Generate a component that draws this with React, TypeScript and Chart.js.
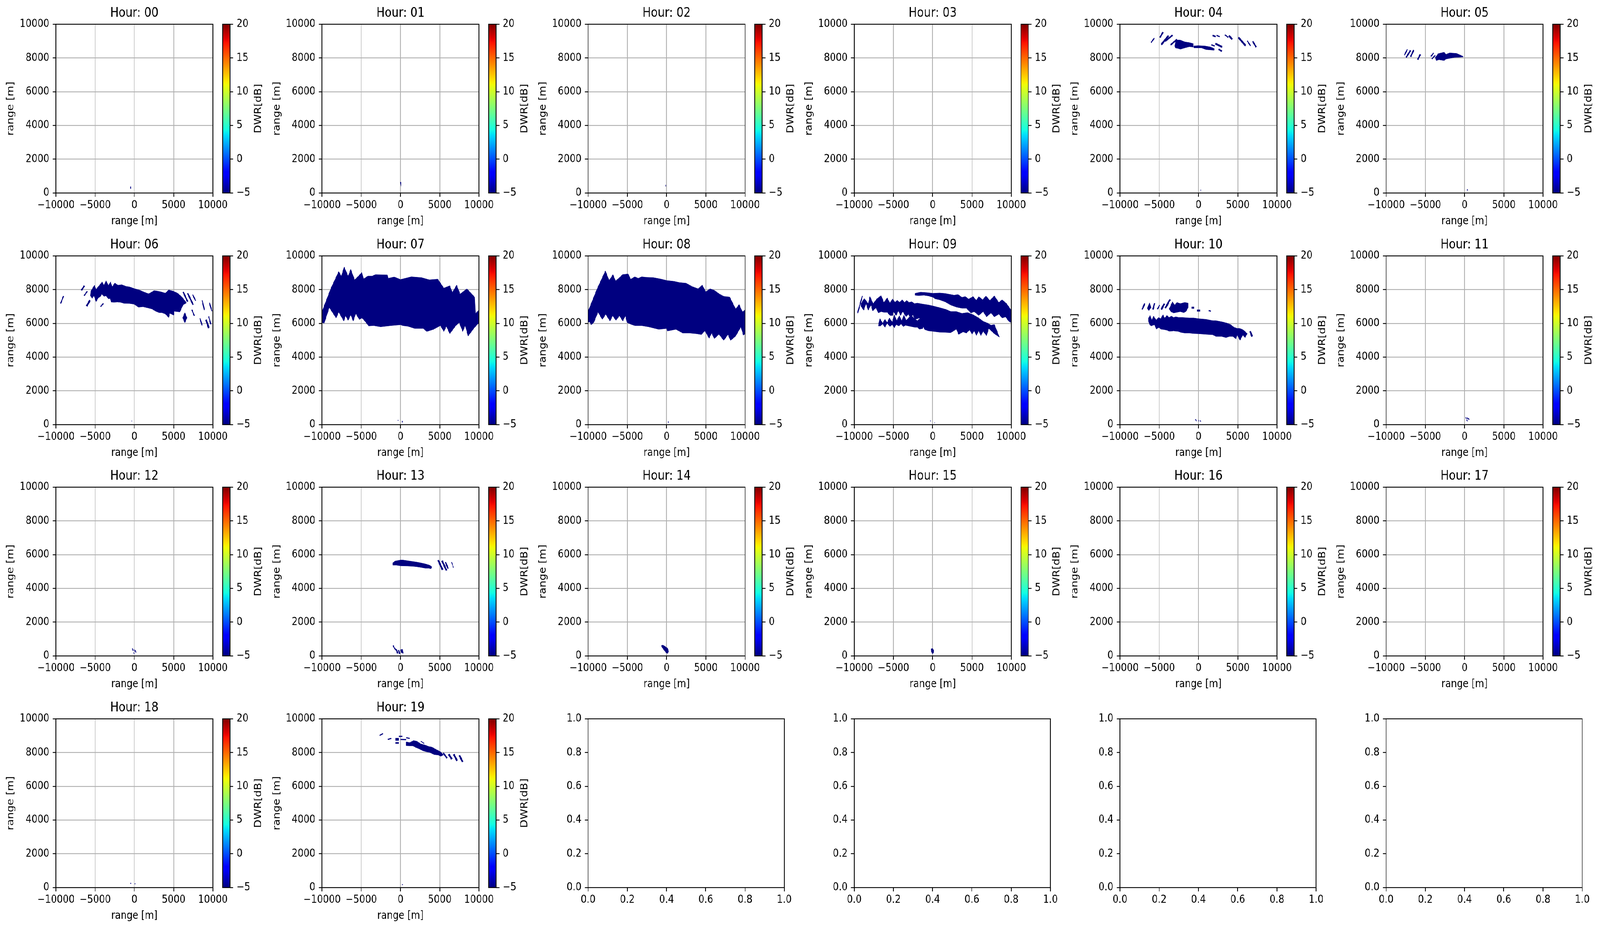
import React, { useEffect, useRef } from "react";
import { Chart, registerables } from "chart.js";

Chart.register(...registerables);

// ---------- style constants (matplotlib 200 dpi look) ----------
const PT = 200 / 72;
const LW = 0.8 * PT;
const TICK_LEN = 3.5 * PT;
const TICK_FS = 10 * PT;
const TITLE_FS = 12 * PT;
const FONT = "'DejaVu Sans', 'Liberation Sans', sans-serif";
const GRID = "#b0b0b0";
const FIG_W = 4780;
const FIG_H = 2378;

// ---------- axis / label data ----------
const HOUR_LABELS = ["00", "01", "02", "03", "04", "05", "06", "07", "08", "09", "10", "11", "12", "13", "14", "15", "16", "17", "18", "19"];
const EMPTY_SLOTS = [20, 21, 22, 23];
const RANGE_X_TICKS = [-10000, -5000, 0, 5000, 10000];
const RANGE_Y_TICKS = [0, 2000, 4000, 6000, 8000, 10000];
const DWR_TICKS = [-5, 0, 5, 10, 15, 20];
const UNIT_TICKS = [0, 0.2, 0.4, 0.6, 0.8, 1.0];
const DWR_MIN = -5;
const DWR_MAX = 20;
const SHAPE_DWR = -5; // every echo shown sits at the bottom of the colour scale
const AXIS_LABEL = "range [m]";
const CB_LABEL = "DWR[dB]";

// ---------- echo shapes per hour: polygons [x,y,x,y,...] in metres ----------
const h00Polys: number[][] = [];
const h00Streaks: number[][] = [[-480, 380, -470, 250, 2]];
const h01Polys: number[][] = [];
const h01Streaks: number[][] = [[-20, 650, 20, 560, 2]];
const h02Polys: number[][] = [];
const h02Streaks: number[][] = [[-130, 480, -110, 380, 2]];
const h03Polys: number[][] = [];
const h03Streaks: number[][] = [];

const h04Polys: number[][] = [
  [-3030, 8710, -2890, 9060, -2320, 9060, -1750, 8950, -1180, 8910, -680, 8850, -680, 8650, -1180, 8670, -1750, 8600, -2320, 8520, -2530, 8560, -2960, 8600],
  [-610, 8710, -40, 8730, 810, 8710, 1520, 8650, 1980, 8560, 1980, 8460, 1520, 8480, 950, 8500, 380, 8600, -610, 8600],
];
const h04Streaks: number[][] = [
  [-6040, 8910, -5620, 9180, 3], [-4910, 9210, -4520, 9530, 4], [-4740, 8790, -3810, 9320, 5],
  [-4240, 8990, -3310, 9350, 4], [-3560, 8770, -2740, 9100, 4], [1780, 9340, 2200, 9260, 4],
  [2300, 9340, 2690, 9260, 3], [1640, 8780, 2060, 8710, 3], [2160, 8850, 3010, 8650, 5],
  [2560, 8520, 2970, 8400, 4], [3370, 9370, 3800, 9220, 3], [3870, 9330, 4300, 9100, 5],
  [5080, 9220, 6000, 8730, 5], [6210, 9020, 6640, 8710, 3], [6900, 8990, 7350, 8640, 4],
  [270, 190, 280, 150, 2],
];

const h05Polys: number[][] = [
  [-3720, 8030, -3390, 8250, -2600, 8340, -2370, 8210, -1920, 8300, -1020, 8270, -230, 8100, -230, 8060, -1350, 8030, -2370, 7940, -2600, 7850, -3270, 7900, -3610, 7850],
];
const h05Streaks: number[][] = [
  [-7670, 8160, -7290, 8520, 3], [-7450, 8030, -6880, 8450, 4], [-6880, 8070, -6480, 8470, 4],
  [-5980, 7900, -5640, 8210, 4], [-4290, 8090, -3950, 8300, 3], [-4180, 7940, -3720, 8160, 3],
  [340, 220, 345, 140, 2],
];

const h06Polys: number[][] = [
  [-5520, 7940, -5090, 8260, -4880, 8020, -4100, 8460, -3880, 8230, -3600, 8540, -3310, 8230, -3030, 8460, -2820, 8170, -2490, 8390, -2100, 8260, -1610, 8290, -1040, 8190, -610, 8160, -10, 8060, 670, 7970, 1090, 7880, 1810, 7750, 2520, 7940, 2940, 7910, 3370, 7870, 3940, 7790, 4370, 7980, 4930, 7910, 5500, 7790, 6070, 7560, 6640, 7220, 6210, 7100, 5790, 6680, 5080, 6720, 5010, 6490, 4510, 6600, 4370, 6350, 3940, 6560, 3510, 6640, 3160, 6640, 2730, 6720, 2230, 6860, 1810, 6910, 1090, 6990, 530, 6960, -40, 7140, -610, 7180, -1320, 7190, -1750, 7250, -2180, 7270, -2600, 7250, -2960, 7270, -3100, 7480, -3310, 7450, -3600, 7640, -3880, 7600, -4170, 7750, -4310, 7600, -4590, 7520, -4880, 7290, -5160, 7640, -5380, 7480, -5590, 7640],
  [6140, 6330, 6430, 6630, 6710, 6330, 6430, 6040],
];
const h06Streaks: number[][] = [
  [-9400, 7180, -9030, 7620, 3], [-6750, 7960, -6370, 8230, 4], [-6410, 7640, -6010, 7900, 3],
  [-6090, 7020, -5660, 7370, 5], [-4310, 6990, -3950, 7180, 3], [6210, 7870, 6780, 7290, 4],
  [6780, 7790, 7490, 7100, 4], [7420, 7710, 7810, 7330, 3], [7320, 6810, 7640, 6450, 3],
  [8630, 7370, 8920, 6790, 3], [9560, 7220, 9880, 6720, 3], [8350, 6300, 8630, 5880, 3],
  [9130, 6220, 9480, 5720, 5], [9460, 6410, 9740, 5950, 3], [-330, 240, -320, 190, 2],
];

const h07Polys: number[][] = [
  [-10000, 6700, -8850, 8090, -7870, 9070, -7540, 8800, -7170, 9340, -6670, 8800, -6340, 9200, -5840, 8580, -5360, 8800, -4930, 9020, -4710, 8630, -4170, 8800, -3620, 8800, -3190, 8890, -1660, 8870, -1560, 8670, -800, 8750, 0, 8600, 1380, 8760, 2690, 8710, 3670, 8580, 4750, 8620, 5520, 8090, 6280, 8230, 6610, 7830, 7150, 8270, 7590, 7740, 8460, 8050, 9440, 7560, 9550, 6580, 9910, 6760, 10000, 6050, 9330, 5700, 8610, 5250, 8240, 5870, 7920, 5520, 7480, 6050, 7050, 5870, 6280, 5390, 5840, 5830, 5520, 5520, 5080, 5870, 4210, 5650, 3340, 5520, 2900, 5700, 1820, 5700, 950, 5830, 290, 5870, 0, 5920, -1230, 5870, -2540, 5800, -3410, 5870, -4060, 5850, -4390, 6050, -4710, 6230, -4930, 6320, -5250, 6230, -5690, 6580, -6020, 6140, -6340, 6500, -6670, 6180, -7000, 6450, -7220, 6140, -7870, 6670, -8200, 6320, -9070, 6940, -9720, 6010, -10000, 6050],
];
const h07Streaks: number[][] = [[-350, 260, -280, 250, 2], [230, 220, 235, 130, 2]];

const h08Polys: number[][] = [
  [-10000, 6720, -8850, 8050, -7800, 9110, -7320, 8540, -6840, 8890, -6490, 8520, -6010, 8710, -5620, 8890, -4880, 8930, -4600, 8610, -4050, 8760, -3620, 8670, -3180, 8760, -2640, 8730, -1660, 8710, -680, 8620, 0, 8540, 960, 8490, 1610, 8420, 2480, 8380, 3250, 8180, 4010, 8050, 4550, 8270, 4990, 7870, 5530, 8050, 6080, 7960, 6730, 7740, 7280, 7600, 8040, 7560, 8800, 6850, 9240, 7120, 9670, 6670, 10000, 6810, 10000, 5390, 9780, 5300, 9460, 5790, 8800, 5250, 8150, 4990, 7820, 5340, 7280, 4990, 6670, 5360, 6080, 5090, 5750, 5430, 5420, 5120, 4880, 5560, 4440, 5340, 3790, 5390, 2920, 5430, 2050, 5430, 1180, 5650, 90, 5550, 0, 5700, -1000, 5650, -2310, 5800, -3180, 5870, -4050, 5870, -4490, 5940, -5030, 6050, -5250, 6450, -5580, 6140, -6010, 6450, -6450, 6180, -6880, 6450, -7210, 6140, -7760, 6540, -8190, 6230, -8740, 6670, -9280, 6050, -9610, 5920, -9830, 6100, -10000, 6050],
];
const h08Streaks: number[][] = [[220, 190, 225, 110, 2]];

const h09Polys: number[][] = [
  [-2250, 7780, -1540, 7850, -680, 7820, 30, 7780, 880, 7800, 1590, 7770, 2730, 7670, 3230, 7710, 3730, 7540, 4150, 7590, 4580, 7440, 5150, 7590, 5570, 7360, 5860, 7590, 6360, 7400, 6780, 7630, 7280, 7360, 7850, 7630, 8420, 7240, 8840, 7400, 9410, 7170, 10000, 6780, 10000, 6050, 9700, 6120, 9270, 6390, 8840, 6320, 8420, 6550, 7850, 6390, 7420, 6620, 6850, 6390, 6430, 6700, 5860, 6470, 5290, 6700, 4860, 6620, 4290, 6900, 3730, 6900, 3010, 6970, 2300, 7090, 1590, 7280, 880, 7400, 310, 7460, 30, 7550, -540, 7630, -1110, 7670, -1820, 7650, -2250, 7670],
  [-9140, 7170, -8720, 7480, -8220, 7170, -8010, 7590, -7580, 7170, -7150, 7440, -6580, 7650, -6230, 7240, -5800, 7510, -5450, 7200, -5120, 7460, -4810, 7240, -4520, 7380, -4240, 7240, -3880, 7400, -3600, 7240, -3310, 7360, -3030, 7240, -2670, 7280, -2320, 7170, -1960, 7200, -1250, 7140, -540, 7090, 30, 7030, 880, 6930, 1730, 6820, 2300, 6700, 3010, 6700, 3730, 6590, 4440, 6640, 5150, 6510, 5860, 6320, 6430, 6120, 7000, 6010, 7420, 5890, 7850, 5930, 8130, 5620, 8490, 5190, 7850, 5390, 7140, 5700, 6850, 5270, 6430, 5540, 6140, 5270, 5860, 5580, 5570, 5270, 5290, 5580, 5010, 5350, 4720, 5620, 4290, 5430, 3870, 5500, 3300, 5350, 3010, 5660, 2300, 5450, 1590, 5470, 880, 5480, 30, 5530, -540, 5560, -1040, 5640, -1320, 5970, -1680, 6320, -2250, 6240, -2530, 6510, -2820, 6320, -3100, 6550, -3380, 6390, -3810, 6700, -4100, 6470, -4380, 6740, -4660, 6470, -5020, 6700, -5090, 6470, -5450, 6470, -5800, 6660, -6230, 6660, -6580, 6700, -6940, 6620, -7220, 6930, -7650, 6740, -7860, 7090, -8220, 6780, -8500, 7170, -8790, 6780, -9140, 7010],
  [-6940, 5850, -6730, 6280, -6370, 6010, -6090, 6240, -5800, 6050, -5520, 6320, -5160, 6080, -4880, 6510, -4590, 6160, -4240, 6470, -3950, 6120, -3670, 6510, -3380, 6160, -3100, 6320, -2740, 6470, -2390, 6320, -1960, 6160, -1540, 6320, -1110, 6010, -1250, 5700, -1680, 5660, -1960, 5770, -2250, 5770, -2670, 5810, -3100, 5850, -3460, 5890, -3740, 5810, -4020, 5970, -4310, 5850, -4660, 5930, -4880, 5740, -5160, 5930, -5450, 5810, -5800, 6010, -6090, 5770, -6370, 5970, -6660, 5850],
];
const h09Streaks: number[][] = [[-9570, 6610, -8960, 7630, 3], [-280, 240, -270, 200, 2], [240, 130, 245, 90, 2]];

const h10Polys: number[][] = [
  [-6370, 6320, -6160, 6470, -5940, 6160, -5730, 6430, -5380, 6200, -5090, 6350, -4810, 6280, -4520, 6510, -4310, 6320, -4020, 6470, -3740, 6350, -3460, 6430, -3170, 6350, -2890, 6390, -2530, 6350, -2030, 6350, -1180, 6320, -610, 6320, -40, 6280, 950, 6240, 1810, 6160, 2230, 6160, 2660, 6120, 3090, 6080, 3650, 6010, 4080, 5930, 4510, 5770, 4930, 5700, 5220, 5700, 5500, 5660, 5790, 5580, 6210, 5390, 5930, 5160, 5650, 5310, 5290, 5000, 4930, 5310, 4790, 5080, 4370, 5230, 3940, 5230, 3510, 5160, 2940, 5230, 2230, 5230, 1810, 5330, 1090, 5350, -40, 5390, -610, 5400, -1180, 5430, -1750, 5430, -2250, 5470, -2600, 5530, -2890, 5540, -3170, 5560, -3530, 5540, -3740, 5540, -4020, 5600, -4450, 5640, -4810, 5660, -5020, 5770, -5380, 5660, -5590, 5930, -6020, 5850, -6230, 5930, -6370, 6120],
  [-3740, 6860, -3310, 7280, -3030, 7090, -2740, 7240, -2320, 7170, -1750, 7240, -1320, 7200, -1320, 6930, -1610, 6700, -1890, 6640, -2320, 6700, -2740, 6660, -3170, 6620, -3530, 6700],
  [-6510, 6890, -6230, 7240, -6040, 6930, -6330, 6760],
];
const h10Streaks: number[][] = [
  [-7180, 6820, -6840, 7180, 4], [-5800, 6820, -5590, 7200, 4], [-5230, 6840, -4950, 7090, 3],
  [-4740, 6820, -4340, 7170, 5], [-4240, 6900, -3810, 7240, 5], [-3910, 7210, -3600, 7410, 4],
  [-900, 6930, -540, 6930, 5], [-180, 6760, 210, 6760, 5], [1310, 6760, 1590, 6720, 3],
  [6570, 5540, 6830, 5220, 5], [-400, 320, -250, 200, 2], [0, 280, 50, 180, 2], [200, 250, 280, 180, 2],
];

const h11Polys: number[][] = [];
const h11Streaks: number[][] = [[100, 450, 250, 350, 2], [300, 420, 450, 300, 2], [450, 380, 600, 300, 2], [250, 300, 350, 200, 2]];
const h12Polys: number[][] = [];
const h12Streaks: number[][] = [[-250, 450, -150, 300, 2], [-50, 400, 50, 250, 2], [100, 350, 200, 200, 2], [-100, 200, 0, 120, 2]];

const h13Polys: number[][] = [
  [-970, 5520, -680, 5620, 30, 5680, 310, 5680, 880, 5640, 1590, 5590, 2020, 5560, 2590, 5510, 3160, 5450, 3730, 5370, 4010, 5270, 3870, 5170, 3580, 5200, 3160, 5200, 2590, 5250, 2020, 5290, 1590, 5310, 880, 5330, 30, 5340, -540, 5380, -970, 5380],
];
const h13Streaks: number[][] = [
  [4790, 5680, 5360, 5100, 5], [5290, 5640, 5860, 5060, 5], [5720, 5560, 6070, 5170, 4], [6500, 5560, 6750, 5230, 2],
  [-940, 620, -800, 470, 3], [-760, 480, -600, 340, 3], [-550, 400, -350, 150, 4],
  [-250, 350, -100, 120, 4], [50, 380, 150, 180, 4], [200, 400, 300, 150, 3],
];

const h14Polys: number[][] = [
  [-650, 620, -450, 640, -200, 560, 50, 480, 200, 400, 250, 250, 150, 150, -50, 180, -250, 300, -450, 420, -600, 520],
];
const h14Streaks: number[][] = [];
const h15Polys: number[][] = [[-200, 420, 0, 440, 120, 330, 100, 180, -50, 130, -180, 250]];
const h15Streaks: number[][] = [];
const h16Polys: number[][] = [];
const h16Streaks: number[][] = [];
const h17Polys: number[][] = [];
const h17Streaks: number[][] = [];
const h18Polys: number[][] = [];
const h18Streaks: number[][] = [[-470, 280, -460, 220, 2], [90, 250, 95, 200, 2]];

const h19Polys: number[][] = [
  [740, 8630, 1170, 8590, 1660, 8710, 2090, 8670, 2590, 8510, 3160, 8440, 3580, 8360, 4010, 8320, 4580, 8170, 4930, 8090, 5220, 8000, 5430, 7860, 5150, 7780, 4790, 7860, 4290, 7880, 3730, 8010, 3300, 8050, 2870, 8110, 2300, 8240, 1880, 8320, 1590, 8400, 1170, 8400, 740, 8410],
];
const h19Streaks: number[][] = [
  [-2670, 9010, -2220, 9130, 3], [-1610, 8780, -1180, 8840, 3], [-650, 8820, -230, 8820, 4],
  [-650, 8740, -230, 8740, 3], [-650, 8570, -230, 8570, 4], [-230, 8960, 240, 8960, 3],
  [0, 8780, 740, 8770, 3], [740, 8880, 1170, 8840, 3], [2590, 8670, 3010, 8540, 2],
  [5430, 7980, 5930, 7670, 4], [6140, 7900, 6540, 7610, 5], [6780, 7900, 7210, 7510, 5],
  [7490, 7840, 7920, 7440, 5], [240, 200, 250, 150, 2],
];

const HOUR_POLYS = [h00Polys, h01Polys, h02Polys, h03Polys, h04Polys, h05Polys, h06Polys, h07Polys, h08Polys, h09Polys, h10Polys, h11Polys, h12Polys, h13Polys, h14Polys, h15Polys, h16Polys, h17Polys, h18Polys, h19Polys];
const HOUR_STREAKS = [h00Streaks, h01Streaks, h02Streaks, h03Streaks, h04Streaks, h05Streaks, h06Streaks, h07Streaks, h08Streaks, h09Streaks, h10Streaks, h11Streaks, h12Streaks, h13Streaks, h14Streaks, h15Streaks, h16Streaks, h17Streaks, h18Streaks, h19Streaks];

// ---------- layout (figure pixels) ----------
const COL_X0 = 166.8;
const COL_STEP = 794.9;
const ROW_Y0 = 62;
const ROW_STEP = 592.6;
const AX_W = 469;
const AX_H = 432;
const CB_OFFSET = 498;
const CB_W = 22;
const EMPTY_W = 586;
const Y_AXIS_W = 167;
const X_AXIS_H = 100;
const TITLE_BLOCK = 48;
const RIGHT_PAD = 60;

// ---------- jet colormap ----------
const JET_R = [[0, 0], [0.35, 0], [0.66, 1], [0.89, 1], [1, 0.5]];
const JET_G = [[0, 0], [0.125, 0], [0.375, 1], [0.64, 1], [0.91, 0], [1, 0]];
const JET_B = [[0, 0.5], [0.11, 1], [0.34, 1], [0.65, 0], [1, 0]];
function interp(pts: number[][], t: number) {
  for (let i = 1; i < pts.length; i++) {
    if (t <= pts[i][0]) {
      const [x0, y0] = pts[i - 1];
      const [x1, y1] = pts[i];
      return y0 + ((t - x0) / (x1 - x0)) * (y1 - y0);
    }
  }
  return pts[pts.length - 1][1];
}
function jet(t: number) {
  const c = (p: number[][]) => Math.round(255 * interp(p, Math.max(0, Math.min(1, t))));
  return `rgb(${c(JET_R)},${c(JET_G)},${c(JET_B)})`;
}
function jetGradient(chart: any) {
  const a = chart.chartArea;
  if (!a) return jet(0);
  const g = chart.ctx.createLinearGradient(0, a.bottom, 0, a.top);
  for (let i = 0; i <= 64; i++) g.addColorStop(i / 64, jet(i / 64));
  return g;
}

const fmtSigned = (v: number) => (v < 0 ? "\u2212" + Math.abs(v) : String(v));

const framePlugin = {
  id: "frame",
  afterDraw(chart: any) {
    const { ctx, chartArea: a } = chart;
    ctx.save();
    ctx.strokeStyle = "#000";
    ctx.lineWidth = LW;
    ctx.strokeRect(a.left, a.top, a.right - a.left, a.bottom - a.top);
    ctx.restore();
  },
};

const cbLabelPlugin = {
  id: "cbLabel",
  afterDraw(chart: any) {
    const { ctx, chartArea: a } = chart;
    ctx.save();
    ctx.translate(a.right + 93, (a.top + a.bottom) / 2);
    ctx.rotate(-Math.PI / 2);
    ctx.font = `${TICK_FS}px ${FONT}`;
    ctx.fillStyle = "#000";
    ctx.textAlign = "center";
    ctx.textBaseline = "alphabetic";
    ctx.fillText(CB_LABEL, 0, 0);
    ctx.restore();
  },
};

const tickFont = { family: FONT, size: TICK_FS };

function axisGrid(onArea: boolean) {
  return {
    display: true,
    drawOnChartArea: onArea,
    color: GRID,
    lineWidth: LW,
    drawTicks: true,
    tickColor: "#000",
    tickWidth: LW,
    tickLength: TICK_LEN,
  };
}

function rangeConfig(h: number): any {
  const color = jet((SHAPE_DWR - DWR_MIN) / (DWR_MAX - DWR_MIN));
  const datasets: any[] = [];
  HOUR_POLYS[h].forEach((p) => {
    const pts: { x: number; y: number }[] = [];
    for (let i = 0; i < p.length; i += 2) pts.push({ x: p[i], y: p[i + 1] });
    pts.push({ x: p[0], y: p[1] });
    datasets.push({ data: pts, borderColor: color, backgroundColor: color, borderWidth: 1, fill: "shape", pointRadius: 0, pointHoverRadius: 0, tension: 0 });
  });
  HOUR_STREAKS[h].forEach((s) => {
    datasets.push({
      data: [{ x: s[0], y: s[1] }, { x: s[2], y: s[3] }],
      borderColor: color, backgroundColor: color, borderWidth: s[4], fill: false,
      pointRadius: 0, pointHoverRadius: 0, borderCapStyle: "butt",
    });
  });
  return {
    type: "line",
    data: { datasets },
    options: {
      animation: false, responsive: false, devicePixelRatio: 1, events: [],
      layout: { padding: { left: 0, right: RIGHT_PAD, top: 0, bottom: 0 } },
      plugins: {
        legend: { display: false }, tooltip: { enabled: false },
        title: {
          display: true, fullSize: false, text: `Hour: ${HOUR_LABELS[h]}`, color: "#000",
          font: { family: FONT, size: TITLE_FS, weight: "normal", lineHeight: 1.2 },
          padding: { top: 0, bottom: TITLE_BLOCK - 1.2 * TITLE_FS },
        },
      },
      scales: {
        x: {
          type: "linear", position: "bottom", min: RANGE_X_TICKS[0], max: RANGE_X_TICKS[RANGE_X_TICKS.length - 1], z: 1,
          afterBuildTicks: (s: any) => { s.ticks = RANGE_X_TICKS.map((value) => ({ value })); },
          afterFit: (s: any) => { s.height = X_AXIS_H; },
          grid: axisGrid(true), border: { display: false },
          ticks: { color: "#000", font: tickFont, padding: 5, maxRotation: 0, minRotation: 0, autoSkip: false, callback: (v: any) => fmtSigned(Number(v)) },
          title: { display: true, text: AXIS_LABEL, color: "#000", font: tickFont, padding: { top: 0, bottom: 11 } },
        },
        y: {
          type: "linear", position: "left", min: RANGE_Y_TICKS[0], max: RANGE_Y_TICKS[RANGE_Y_TICKS.length - 1], z: 1,
          afterBuildTicks: (s: any) => { s.ticks = RANGE_Y_TICKS.map((value) => ({ value })); },
          afterFit: (s: any) => { s.width = Y_AXIS_W; },
          grid: axisGrid(true), border: { display: false },
          ticks: { color: "#000", font: tickFont, padding: 10, autoSkip: false, callback: (v: any) => fmtSigned(Number(v)) },
          title: { display: true, text: AXIS_LABEL, color: "#000", font: tickFont, padding: { top: 16, bottom: 0 } },
        },
      },
    },
    plugins: [framePlugin],
  };
}

function colorbarConfig(): any {
  return {
    type: "bar",
    data: {
      labels: [""],
      datasets: [{
        data: [[DWR_MIN, DWR_MAX]],
        backgroundColor: (ctx: any) => jetGradient(ctx.chart),
        borderWidth: 0, barPercentage: 1, categoryPercentage: 1,
      }],
    },
    options: {
      animation: false, responsive: false, devicePixelRatio: 1, events: [],
      layout: { padding: { left: 10, right: 0, top: 30, bottom: 30 } },
      plugins: { legend: { display: false }, tooltip: { enabled: false } },
      scales: {
        x: { display: false },
        y: {
          type: "linear", position: "right", min: DWR_MIN, max: DWR_MAX, z: 1,
          afterBuildTicks: (s: any) => { s.ticks = DWR_TICKS.map((value) => ({ value })); },
          afterFit: (s: any) => { s.width = 150; },
          grid: axisGrid(false), border: { display: false },
          ticks: { color: "#000", font: tickFont, padding: 10, autoSkip: false, callback: (v: any) => fmtSigned(Number(v)) },
        },
      },
    },
    plugins: [framePlugin, cbLabelPlugin],
  };
}

function emptyConfig(): any {
  const unitScale = (pos: string, fit: (s: any) => void) => ({
    type: "linear", position: pos, min: 0, max: 1, z: 1,
    afterBuildTicks: (s: any) => { s.ticks = UNIT_TICKS.map((value) => ({ value })); },
    afterFit: fit,
    grid: axisGrid(false), border: { display: false },
    ticks: { color: "#000", font: tickFont, padding: pos === "left" ? 10 : 5, maxRotation: 0, minRotation: 0, autoSkip: false, callback: (v: any) => Number(v).toFixed(1) },
  });
  return {
    type: "scatter",
    data: { datasets: [] },
    options: {
      animation: false, responsive: false, devicePixelRatio: 1, events: [],
      layout: { padding: { left: 0, right: RIGHT_PAD, top: TITLE_BLOCK, bottom: 0 } },
      plugins: { legend: { display: false }, tooltip: { enabled: false } },
      scales: {
        x: unitScale("bottom", (s: any) => { s.height = X_AXIS_H; }),
        y: unitScale("left", (s: any) => { s.width = Y_AXIS_W; }),
      },
    },
    plugins: [framePlugin],
  };
}

function ChartCanvas({ left, top, width, height, make }: { left: number; top: number; width: number; height: number; make: () => any }) {
  const ref = useRef<HTMLCanvasElement>(null);
  useEffect(() => {
    const chart = new Chart(ref.current as HTMLCanvasElement, make());
    return () => chart.destroy();
  }, []);
  return (
    <canvas ref={ref} width={width} height={height}
      style={{ position: "absolute", left, top, width, height, display: "block" }} />
  );
}

function slotOrigin(idx: number) {
  const c = idx % 6;
  const r = Math.floor(idx / 6);
  return { plotL: Math.round(COL_X0 + COL_STEP * c), plotT: Math.round(ROW_Y0 + ROW_STEP * r) };
}

function RangePanel({ idx }: { idx: number }) {
  const { plotL, plotT } = slotOrigin(idx);
  return (
    <>
      <ChartCanvas left={plotL - Y_AXIS_W} top={plotT - TITLE_BLOCK}
        width={Y_AXIS_W + AX_W + RIGHT_PAD} height={TITLE_BLOCK + AX_H + X_AXIS_H}
        make={() => rangeConfig(idx)} />
      <ChartCanvas left={plotL + CB_OFFSET - 10} top={plotT - 30}
        width={10 + CB_W + 150} height={30 + AX_H + 30}
        make={() => colorbarConfig()} />
    </>
  );
}

function EmptyPanel({ idx }: { idx: number }) {
  const { plotL, plotT } = slotOrigin(idx);
  return (
    <ChartCanvas left={plotL - Y_AXIS_W} top={plotT - TITLE_BLOCK}
      width={Y_AXIS_W + EMPTY_W + RIGHT_PAD} height={TITLE_BLOCK + AX_H + X_AXIS_H}
      make={() => emptyConfig()} />
  );
}

export default function App() {
  const vw = typeof window !== "undefined" && window.innerWidth > 0 ? window.innerWidth : FIG_W;
  const vh = typeof window !== "undefined" && window.innerHeight > 0 ? window.innerHeight : FIG_H;
  const sx = vw / FIG_W;
  const sy = vh / FIG_H;
  return (
    <div style={{ position: "fixed", left: 0, top: 0, width: vw, height: vh, overflow: "hidden", background: "#fff" }}>
      <div style={{ position: "absolute", left: 0, top: 0, width: FIG_W, height: FIG_H, transform: `scale(${sx}, ${sy})`, transformOrigin: "0 0" }}>
        {HOUR_LABELS.map((_, i) => <RangePanel key={i} idx={i} />)}
        {EMPTY_SLOTS.map((i) => <EmptyPanel key={i} idx={i} />)}
      </div>
    </div>
  );
}
